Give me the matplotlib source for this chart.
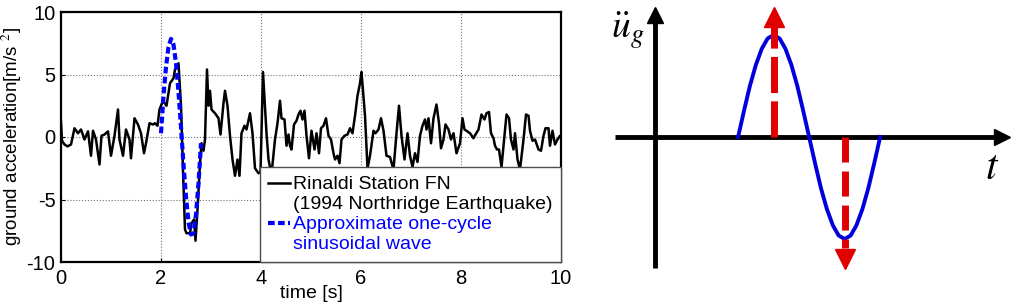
#!/usr/bin/env python3
"""Rinaldi FN record vs. one-cycle sine approximation, plus pulse schematic."""
import matplotlib
matplotlib.use("Agg")
import matplotlib.pyplot as plt
from matplotlib.lines import Line2D

plt.rcParams["font.family"] = ["Liberation Sans", "DejaVu Sans"]
plt.rcParams["mathtext.fontset"] = "stix"
plt.rcParams["axes.unicode_minus"] = False

rec_t = [0.0, 0.02, 0.07, 0.13, 0.2, 0.27, 0.34, 0.4, 0.47, 0.54, 0.6, 0.64, 0.7,
         0.77, 0.81, 0.87, 0.94, 1.0, 1.07, 1.14, 1.17, 1.24, 1.3, 1.37, 1.4, 1.47,
         1.54, 1.6, 1.66, 1.7, 1.77, 1.84, 1.88, 1.93, 1.97, 2.04, 2.11, 2.18, 2.25,
         2.28, 2.35, 2.4, 2.45, 2.48, 2.51, 2.58, 2.61, 2.66, 2.69, 2.73, 2.78, 2.81,
         2.85, 2.88, 2.92, 2.95, 2.98, 3.01, 3.08, 3.15, 3.19, 3.25, 3.28, 3.33, 3.38,
         3.43, 3.48, 3.53, 3.57, 3.61, 3.67, 3.71, 3.78, 3.83, 3.88, 3.95, 3.99, 4.04,
         4.11, 4.15, 4.21, 4.28, 4.33, 4.38, 4.41, 4.47, 4.51, 4.55, 4.58, 4.61, 4.66,
         4.71, 4.75, 4.79, 4.83, 4.87, 4.91, 4.96, 5.01, 5.07, 5.11, 5.16, 5.2, 5.25,
         5.3, 5.35, 5.4, 5.45, 5.48, 5.53, 5.57, 5.61, 5.67, 5.73, 5.78, 5.83, 5.88,
         5.93, 5.98, 6.01, 6.08, 6.13, 6.18, 6.25, 6.29, 6.35, 6.4, 6.45, 6.51, 6.58,
         6.65, 6.71, 6.76, 6.81, 6.87, 6.93, 6.98, 7.03, 7.08, 7.13, 7.18, 7.23, 7.28,
         7.31, 7.35, 7.4, 7.45, 7.51, 7.56, 7.6, 7.65, 7.69, 7.75, 7.8, 7.85, 7.91,
         7.98, 8.03, 8.07, 8.11, 8.18, 8.25, 8.29, 8.35, 8.41, 8.47, 8.51, 8.56, 8.6,
         8.65, 8.68, 8.72, 8.76, 8.81, 8.87, 8.91, 8.96, 9.0, 9.05, 9.08, 9.13, 9.18,
         9.25, 9.3, 9.35, 9.38, 9.43, 9.48, 9.55, 9.6, 9.65, 9.69, 9.75, 9.78, 9.83,
         9.88, 9.93, 9.98, 10.0]
rec_a = [1.2, -0.3, -0.6, -0.75, -0.6, 0.7, 0.3, 0.6, -0.2, 0.45, -1.5, 0.5, -0.2,
         -2.2, 0.1, 0.2, 0.45, -1.5, 0.1, 2.2, -0.2, -1.5, 0.6, -0.2, -1.7, 1.5,
         1.0, 0.3, -1.3, -0.5, 1.1, 1.0, 1.1, 0.9, 2.2, 2.9, 2.5, 4.3, 4.7,
         5.4, 5.9, 2.5, -3.9, -7.4, -7.7, -7.7, -6.9, -6.6, -8.3, -5.8, -2.1, -0.5,
         -1.1, -0.2, 5.4, 2.5, 3.7, 2.2, 1.9, 1.5, 0.2, 2.7, 3.7, 2.5, 0.1,
         -1.8, -3.1, -1.8, -3.1, 0.3, 0.9, 0.6, 1.9, 0.3, -2.5, -2.9, -2.8, 5.2,
         0.3, -1.8, -3.0, -0.2, 1.1, 2.9, 1.5, 1.4, -0.7, 0.2, -0.7, -1.0, 1.0,
         1.3, 1.8, 2.1, 1.4, 2.1, 0.1, -1.7, 0.5, -1.0, 0.3, -1.3, 0.7, 0.9,
         1.5, 0.1, -0.2, -1.3, -1.8, -1.5, -2.1, -0.2, 0.1, 0.2, 0.7, 0.3, 1.7,
         3.3, 4.3, 5.2, 1.7, -2.5, -1.5, 0.5, 0.3, 0.6, 1.5, 0.5, -1.5, -1.6,
         -2.6, 0.3, 2.5, 0.1, -1.8, 0.3, -1.5, -2.4, -1.3, -2.0, 0.1, 0.9, 1.4,
         0.6, 1.5, -0.5, 1.5, 2.6, 1.1, -0.9, -0.2, 1.0, 0.6, -0.2, 0.3, -1.3,
         -0.5, 1.5, 0.6, 0.5, 0.3, -0.1, 0.2, 0.6, 1.8, 1.4, 1.9, 2.0, 0.3,
         -0.1, -0.7, -1.0, -1.0, -2.4, 0.1, 1.8, 1.5, -0.2, -1.0, 0.3, -1.8, -2.6,
         -0.2, 1.8, 1.7, 0.5, -0.3, -0.2, -1.0, -1.1, 0.1, 0.7, 0.7, -0.7, 0.5,
         -0.6, -0.2, 0.1, -0.1]

# --- one-cycle sinusoidal approximation ---
sin_t = [2.0, 2.05, 2.1, 2.15, 2.2, 2.25, 2.3, 2.35, 2.4, 2.45, 2.5, 2.55, 2.6,
         2.65, 2.7, 2.75, 2.8]
sin_a = [0.3, 3.3, 5.6, 7.2, 7.85, 7.4, 5.9, 3.6, 0.8, -2.2, -4.8, -6.8, -7.8,
         -7.7, -6.2, -3.7, -0.5]

# --- schematic pulse (right panel, arbitrary units) ---
sch_t = [0.585, 0.627, 0.668, 0.710, 0.752, 0.793, 0.835, 0.877, 0.918, 0.960,
         1.002, 1.043, 1.085, 1.127, 1.168, 1.210, 1.252, 1.293, 1.335, 1.377,
         1.418, 1.460, 1.502, 1.543, 1.585]
sch_a = [0.0, 0.259, 0.5, 0.707, 0.866, 0.966, 1.0, 0.966, 0.866, 0.707,
         0.5, 0.259, 0.0, -0.259, -0.5, -0.707, -0.866, -0.966, -1.0, -0.966,
         -0.866, -0.707, -0.5, -0.259, 0.0]

fig = plt.figure(figsize=(10.13, 3.05), dpi=100)

# left: time history
ax = fig.add_axes([61 / 1013, 43 / 305, 500 / 1013, 250 / 305])
ax.plot(rec_t, rec_a, color="k", lw=1.8, label="Rinaldi Station FN")
ax.plot(sin_t, sin_a, color="#0000ff", lw=3, dashes=(1.6, 0.8),
        label="Approximate one-cycle")
ax.set_xlim(0, 10)
ax.set_ylim(-10, 10)
ax.set_xticks([0, 2, 4, 6, 8, 10])
ax.set_yticks([-10, -5, 0, 5, 10])
ax.grid(True, color="0.45", linestyle=":", linewidth=0.8)
ax.tick_params(direction="in", length=3, labelsize=14.5)
ax.tick_params(axis="x", pad=5)
ax.tick_params(axis="y", pad=4)
for sp in ax.spines.values():
    sp.set_linewidth(1.6)
ax.set_xlabel("time [s]", fontsize=14, labelpad=-2)
ax.set_ylabel("ground acceleration[m/s $^2$]", fontsize=13.5, labelpad=2)

blank = Line2D([], [], color="none")
hnd = [Line2D([], [], color="k", lw=1.8), blank,
       Line2D([], [], color="#0000ff", lw=3, dashes=(1.6, 0.8)), blank]
lab = ["Rinaldi Station FN", "(1994 Northridge Earthquake)",
       "Approximate one-cycle", "sinusoidal wave"]
leg = ax.legend(hnd, lab, loc="lower right", bbox_to_anchor=(1, 0),
                borderaxespad=0, fontsize=14, handlelength=1.1,
                handletextpad=0.15, labelspacing=0.12, borderpad=0.45,
                fancybox=False, framealpha=1, edgecolor="0.3",
                labelcolor=["k", "k", "#0000ff", "#0000ff"])
leg.get_frame().set_linewidth(1.0)

# right: schematic
ax2 = fig.add_axes([600 / 1013, 0, 413 / 1013, 1])
ax2.set_xlim(-0.387, 2.52)
ax2.set_ylim(-1.647, 1.343)
ax2.axis("off")
ax2.plot([-0.28, 2.40], [0, 0], color="k", lw=3.5, solid_capstyle="butt")
ax2.plot([2.44], [0], marker=">", ms=12, color="k")
ax2.plot([0, 0], [-1.28, 1.16], color="k", lw=3.5, solid_capstyle="butt")
ax2.plot([0], [1.20], marker="^", ms=11, color="k")

ax2.plot(sch_t, sch_a, color="#0000dd", lw=2.8)
pk = sch_a.index(max(sch_a))
tr = sch_a.index(min(sch_a))
red = "#e00000"
ax2.plot([sch_t[pk]] * 2, [0, 1.08], color=red, lw=5, dashes=(5.2, 1.2))
ax2.plot([sch_t[pk]], [1.176], marker="^", ms=15, color=red)
ax2.plot([sch_t[tr]] * 2, [0, -1.09], color=red, lw=5, dashes=(3.6, 1.3))
ax2.plot([sch_t[tr]], [-1.196], marker="v", ms=15, color=red)

ax2.text(-0.31, 1.04, r"$\ddot{u}_g$", fontsize=27, ha="left", va="center")
ax2.text(2.375, -0.30, r"$t$", fontsize=30, ha="center", va="center")

fig.savefig("out.png", dpi=100)
